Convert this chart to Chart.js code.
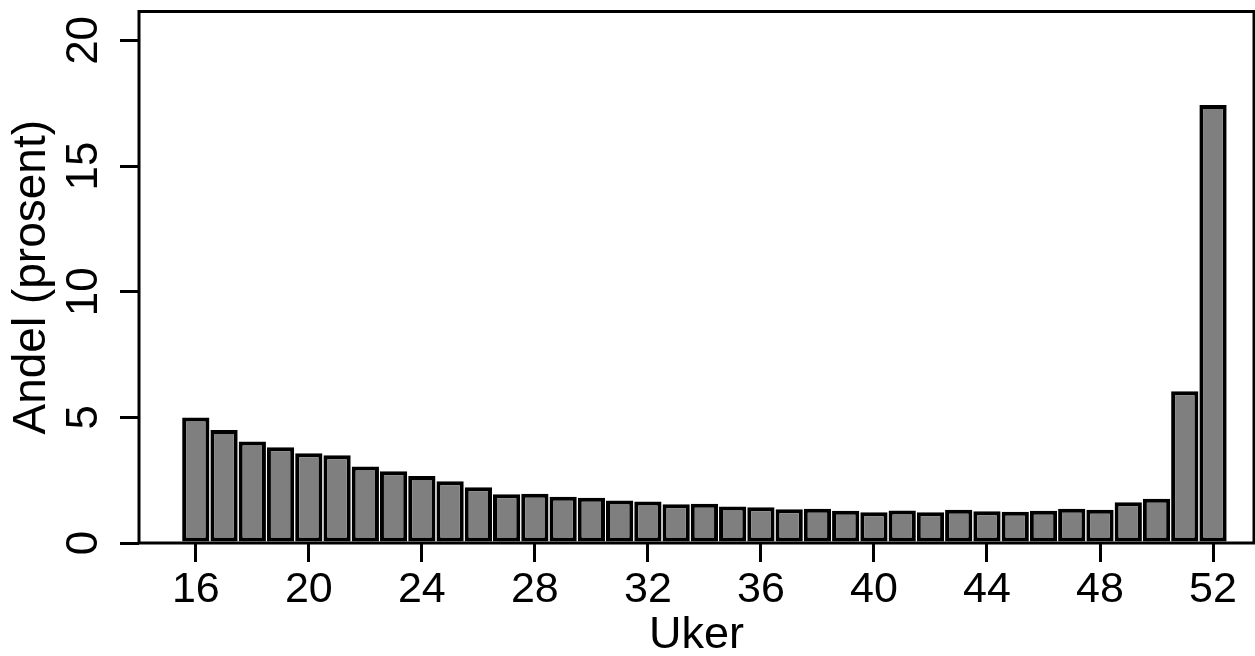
<!DOCTYPE html>
<html>
<head>
<meta charset="utf-8">
<title>Andel per uke</title>
<script src="https://cdn.jsdelivr.net/npm/chart.js@4.4.1/dist/chart.umd.min.js"></script>
<style>
    html, body { margin: 0; padding: 0; background: #ffffff; }
    canvas { display: block; }
</style>
</head>
<body>
<canvas id="ukerChart" width="1255" height="656"></canvas>
<script>
// Weeks on the x axis and share (percent) for each week
const weeks = [16, 17, 18, 19, 20, 21, 22, 23, 24, 25, 26, 27, 28, 29, 30, 31, 32, 33, 34,
    35, 36, 37, 38, 39, 40, 41, 42, 43, 44, 45, 46, 47, 48, 49, 50, 51, 52];
const shares = [4.99, 4.50, 4.04, 3.81, 3.57, 3.49, 3.04, 2.86, 2.67, 2.46, 2.22, 1.94, 1.96,
    1.84, 1.80, 1.69, 1.65, 1.54, 1.56, 1.45, 1.42, 1.34, 1.36, 1.28, 1.22, 1.29, 1.22,
    1.32, 1.26, 1.24, 1.28, 1.36, 1.32, 1.62, 1.76, 6.04, 17.43];

// Tick labels
const weekTicks = [16, 20, 24, 28, 32, 36, 40, 44, 48, 52];
const shareTicks = [0, 5, 10, 15, 20];

const FONT = '"Liberation Sans", Arial, Helvetica, sans-serif';

// y tick labels and axis title are drawn rotated, plus the frame round the plot
const frameAndLabels = {
    id: 'frameAndLabels',
    afterDraw(chart) {
        const { ctx, chartArea, scales } = chart;
        const y = scales.y;
        ctx.save();
        ctx.strokeStyle = '#000';
        ctx.lineWidth = 3;
        ctx.strokeRect(chartArea.left, chartArea.top,
            chartArea.right - chartArea.left, chartArea.bottom - chartArea.top);

        ctx.fillStyle = '#000';
        ctx.font = '44px ' + FONT;
        ctx.textAlign = 'center';
        ctx.textBaseline = 'alphabetic';
        shareTicks.forEach(v => {
            ctx.save();
            ctx.translate(97, y.getPixelForValue(v));
            ctx.rotate(-Math.PI / 2);
            ctx.fillText(String(v), 0, 0);
            ctx.restore();
        });

        ctx.font = '46px ' + FONT;
        ctx.save();
        ctx.translate(45, (chartArea.top + chartArea.bottom) / 2);
        ctx.rotate(-Math.PI / 2);
        ctx.fillText('Andel (prosent)', 0, 0);
        ctx.restore();
        ctx.restore();
    }
};

const data = {
    datasets: [{
        label: 'Andel',
        data: weeks.map((w, i) => ({ x: w, y: shares[i] })),
        backgroundColor: '#7f7f7f',
        borderColor: '#000000',
        borderWidth: 4,
        borderSkipped: false,
        inflateAmount: 0,
        barPercentage: 0.965,
        categoryPercentage: 1
    }]
};

const config = {
    type: 'bar',
    data,
    options: {
        responsive: false,
        animation: false,
        layout: { padding: { top: 11.5, right: 1, left: 0, bottom: 0 } },
        plugins: {
            legend: { display: false },
            tooltip: { enabled: false }
        },
        scales: {
            x: {
                type: 'linear',
                min: 13.99,
                max: 53.45,
                offset: false,
                afterBuildTicks: scale => {
                    scale.ticks = weekTicks.map(v => ({ value: v }));
                },
                afterFit: scale => { scale.height = 113; },
                ticks: {
                    color: '#000',
                    font: { family: FONT, size: 43 },
                    padding: 2,
                    maxRotation: 0,
                    autoSkip: false
                },
                grid: {
                    offset: false,
                    drawOnChartArea: false,
                    tickLength: 19,
                    color: '#000',
                    lineWidth: 3
                },
                border: { display: false },
                title: {
                    display: true,
                    text: 'Uker',
                    color: '#000',
                    font: { family: FONT, size: 45 },
                    padding: { top: 0, bottom: -7 }
                }
            },
            y: {
                min: 0,
                max: 21.15,
                afterBuildTicks: scale => {
                    scale.ticks = shareTicks.map(v => ({ value: v }));
                },
                afterFit: scale => { scale.width = 139; },
                ticks: { display: false },
                grid: {
                    drawOnChartArea: false,
                    tickLength: 19,
                    color: '#000',
                    lineWidth: 3
                },
                border: { display: false }
            }
        }
    },
    plugins: [frameAndLabels]
};

// Bar chart of weekly shares
const ukerChart = new Chart(document.getElementById('ukerChart'), config);
</script>
</body>
</html>
